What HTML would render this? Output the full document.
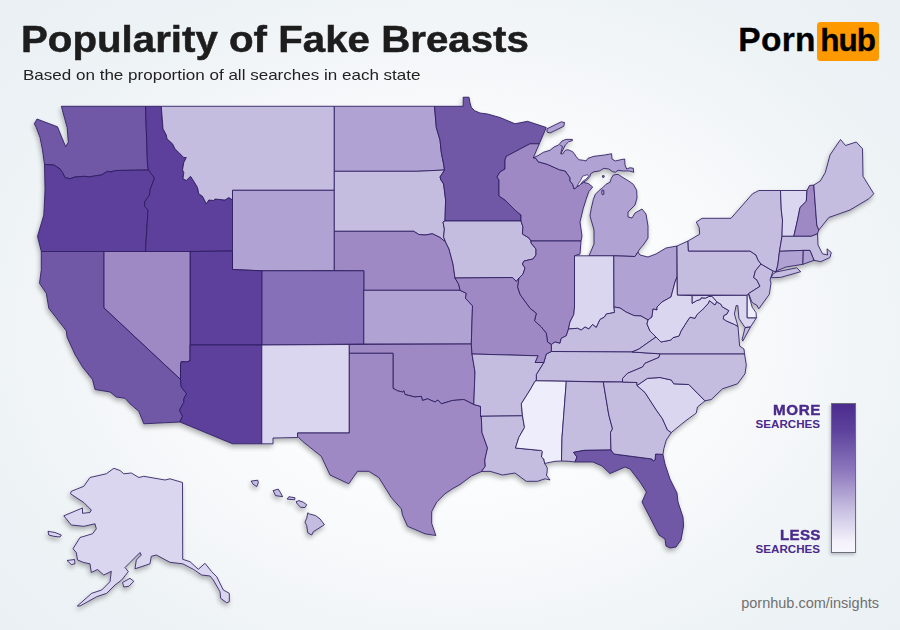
<!DOCTYPE html>
<html><head><meta charset="utf-8"><title>Popularity map</title>
<style>
html,body{margin:0;padding:0}
body{width:900px;height:630px;overflow:hidden;position:relative;font-family:"Liberation Sans",sans-serif;
background:radial-gradient(ellipse 600px 450px at 455px 330px,#ffffff 0%,#fcfdfe 30%,#f6f8fa 55%,#eef3f6 78%,#eaf0f4 100%);}
#title{position:absolute;left:20.6px;top:18px;font-size:37px;font-weight:bold;color:#1d1d1d;white-space:nowrap;line-height:44px;transform-origin:0 0;transform:scaleX(1.088);-webkit-text-stroke:0.5px #1d1d1d}
#sub{position:absolute;left:23.4px;top:66px;font-size:15px;color:#222;white-space:nowrap;line-height:18px;transform-origin:0 0;transform:scaleX(1.135)}
#logo{position:absolute;left:738.2px;top:20.4px;height:39px;white-space:nowrap;font-weight:bold;font-size:33.5px;line-height:39px;color:#000;letter-spacing:0.35px;-webkit-text-stroke:0.3px #000}
#hubbox{position:absolute;left:817px;top:22px;width:62px;height:39px;background:#ff9900;border-radius:3.5px}
#hub{position:absolute;left:820.2px;top:21px;font-weight:bold;font-size:31.5px;line-height:39px;color:#000;letter-spacing:-1px;white-space:nowrap;-webkit-text-stroke:0.3px #000}
.lg{position:absolute;right:80px;text-align:right;color:#4a2a8c;font-weight:bold;white-space:nowrap}
.lg .a{font-size:14.2px;line-height:14px;display:block;letter-spacing:0.6px;margin-right:-0.6px;transform:scaleX(1.07);transform-origin:100% 50%;-webkit-text-stroke:0.4px #4a2a8c}
.lg .a.l{letter-spacing:0.2px;margin-right:-0.2px}
.lg .b{font-size:11.6px;line-height:12px;display:block;position:relative;top:0.8px}
#bar{position:absolute;left:831px;top:403px;width:25px;height:150px;box-sizing:border-box;border:1px solid #6d6d78;background:linear-gradient(#4b2c8e 0%,#5d429c 18%,#8d78bd 45%,#c9c1e2 72%,#f4f1fb 93%,#f8f6fd 100%);box-shadow:-1px 2px 3px rgba(60,60,90,.28)}
#foot{position:absolute;right:21px;top:594.5px;font-size:14.5px;color:#707070;white-space:nowrap;line-height:17px}
svg{position:absolute;left:0;top:0}
</style></head><body>
<div id="title">Popularity of Fake Breasts</div>
<div id="sub">Based on the proportion of all searches in each state</div>
<div id="logo">Porn</div><div id="hubbox"></div><div id="hub">hub</div>
<svg width="900" height="630" viewBox="0 0 900 630">
<defs><filter id="sh" x="-5%" y="-5%" width="110%" height="110%"><feGaussianBlur in="SourceAlpha" stdDeviation="2.8"/><feOffset dx="-1.5" dy="3"/><feComponentTransfer><feFuncA type="linear" slope="0.3"/></feComponentTransfer><feMerge><feMergeNode/><feMergeNode in="SourceGraphic"/></feMerge></filter></defs>
<g filter="url(#sh)" stroke="#2c1b5e" stroke-width="0.85" stroke-linejoin="round">
<path fill="#6f58a6" d="M44.5,164.5 42.5,150 40,137.5 36.3,127.5 34.3,123.8 37,119 57.5,126.8 65.6,146.6 68.3,142.3 67.2,127.8 61.3,106.3 145.5,106.3 147.5,165 148.5,170 148.5,170 116.3,170.5 110,172 107.5,171.3 101.3,175 92.5,176.3 88.8,177 85,176.3 75,177 70,178.8 65,177.5 62.5,172.5 60,168.8 53.8,165 44.5,164.5Z"/>
<path fill="#5c3f9b" d="M44.5,164.5 45,190 43.8,215 37.5,236.3 41.3,251.5 145.5,251.5 145.5,251.5 148,210 144.5,206.3 145,201.3 149.5,195 150,190 154.5,178 148.5,170 148.5,170 116.3,170.5 110,172 107.5,171.3 101.3,175 92.5,176.3 88.8,177 85,176.3 75,177 70,178.8 65,177.5 62.5,172.5 60,168.8 53.8,165 44.5,164.5Z"/>
<path fill="#5c3f9b" d="M145.5,106.3 161.3,106.3 163,128.8 166.3,135 167,138.8 172.5,143.8 175,148.8 180,153.8 183.8,157.5 186.3,157.5 183.8,162.5 182.5,170 183.8,172.5 183,178.8 186.3,180.5 190.5,176.3 193.8,181.3 197.5,187.5 198.8,193.8 202.5,196.3 206.3,203.8 208.8,200 213.8,200.5 215,199 225,200 228.8,197.5 232.5,200 232.5,251 190,251.5 145.5,251.5 145.5,251.5 148,210 144.5,206.3 145,201.3 149.5,195 150,190 154.5,178 148.5,170 148.5,170 147.5,165 145.5,106.3Z"/>
<path fill="#c4bde0" d="M161.3,106.3 334.3,106.3 334.3,190.3 232.5,190.3 232.5,200 228.8,197.5 225,200 215,199 213.8,200.5 208.8,200 206.3,203.8 202.5,196.3 198.8,193.8 197.5,187.5 193.8,181.3 190.5,176.3 186.3,180.5 183,178.8 183.8,172.5 182.5,170 183.8,162.5 186.3,157.5 183.8,157.5 180,153.8 175,148.8 172.5,143.8 167,138.8 166.3,135 163,128.8 161.3,106.3Z"/>
<path fill="#b0a3d3" d="M232.5,190.3 334.3,190.3 334.3,270.5 261.8,270.8 232.5,269.5Z"/>
<path fill="#b0a3d3" d="M334.3,106.3 434.5,106.3 436.3,127.5 440,140 441.3,152.5 443.8,165 444.5,170 417.5,171.3 334.3,171.3Z"/>
<path fill="#c4bde0" d="M334.3,171.3 417.5,171.3 444.5,170 440,177 441,180 443.6,184 445.6,200 445,221 445,221 443,222 444.4,229 443.6,237 445.6,242 445.6,242 440,237.5 432.5,233.8 425,235 418.8,234.5 413.8,231.3 334.3,231.3Z"/>
<path fill="#9e89c5" d="M334.3,231.3 413.8,231.3 418.8,234.5 425,235 432.5,233.8 440,237.5 445.6,242 445.6,242 449,249 453,264 455,278 455,278 458.8,284.5 460,290.3 363.8,290.3 363.8,270.8 334.3,270.5Z"/>
<path fill="#8671b8" d="M261.8,270.8 363.8,270.8 363.8,344 261.8,345Z"/>
<path fill="#b0a3d3" d="M363.8,290.3 460,290.3 466.3,293.3 465.5,298.3 472.5,305.8 472,322 471.3,344 363.8,344Z"/>
<path fill="#5c3f9b" d="M190,251.5 232.5,251 232.5,269.5 261.8,270.8 261.8,345 190,345Z"/>
<path fill="#9e89c5" d="M103.8,251.5 190,251.5 190,360.8 186.3,362 181.3,361.5 180.5,364.5 180.5,379.5 103.8,307.8Z"/>
<path fill="#6f58a6" d="M41.3,251.5 41.3,269.5 39.5,283.3 46.3,293.3 48.8,308.3 66.3,330.8 67,337 75,354.5 82.5,367 92.5,379.5 95,389.5 110,392 116.3,397 125,398.3 130,403.8 138.8,411.3 143.8,423.8 180,422 180,422 182.5,416.3 179.5,410 183.8,402.5 183.8,399 186.5,393.5 181.3,387 180.5,379.5 103.8,307.8 103.8,251.5Z"/>
<path fill="#5c3f9b" d="M190,345 261.8,345 261.8,443.8 232.5,443.8 180,422 182.5,416.3 179.5,410 183.8,402.5 183.8,399 186.5,393.5 181.3,387 180.5,379.5 180.5,364.5 181.3,361.5 186.3,362 190,360.8Z"/>
<path fill="#dbd6ef" d="M261.8,345 349.3,344.5 349.3,433 297.5,433 297.5,437.5 273,438 273,443.8 261.8,443.8Z"/>
<path fill="#9e89c5" d="M349.3,344.5 471.3,344 472,354 475,372 473.8,404.5 473.8,404.5 463.8,399.5 452.5,400.5 441.3,403.8 438,400 435,402 427.5,398.8 422.5,400.5 421.3,396.3 415,397 405,394.5 403.8,390.8 402.5,392 397.5,390.8 393,388.3 393,353.3 349.3,353.3Z"/>
<path fill="#9e89c5" d="M349.3,353.3 393,353.3 393,388.3 397.5,390.8 402.5,392 403.8,390.8 405,394.5 415,397 421.3,396.3 422.5,400.5 427.5,398.8 435,402 438,400 441.3,403.8 452.5,400.5 463.8,399.5 473.8,404.5 480.5,406.3 481.3,416.3 482,432.5 487.5,448 484.8,460 485.3,466.3 481.5,471.5 471.7,475.8 460,484.5 452,489 445,493.8 436.7,502 431.7,511.7 431.7,523.3 435.8,535.5 425,533.8 407.5,526.3 402.5,515 401.3,508.8 391.3,497.5 378.8,477.5 368.8,471.3 357.5,471.3 348.8,483.8 330,475 321.3,456.3 302.5,441.3 297.5,436.3 297.5,433 349.3,433Z"/>
<path fill="#6f58a6" d="M434.5,106.3 463.2,106.3 463.2,97.2 469,97.2 470,102.7 471.3,107.3 474.7,110.7 480,113 487.5,114 500,117.5 515,123.8 527.5,121.3 546.3,127.5 539.3,143.8 530,143.8 506.3,156.3 505,160 505,169 500,172 497,177 499,180 499,196 505,200 510,205 516,211 521,215 521,221 445,221 445.6,200 443.6,184 441,180 440,177 444.5,170 444.5,170 443.8,165 441.3,152.5 440,140 436.3,127.5 434.5,106.3Z"/>
<path fill="#c4bde0" d="M445,221 521,221 523,227 522.4,234 529,238 531,241 531,241 531,243 536,249 536,255 533,259 524,261 522.4,264 525,268 523,274 518.8,278.3 518.8,278.3 516.3,281.5 512.5,277.5 455,278 455,278 453,264 449,249 445.6,242 445.6,242 443.6,237 444.4,229 443,222 445,221Z"/>
<path fill="#9e89c5" d="M521,221 521,215 516,211 510,205 505,200 499,196 499,180 497,177 500,172 505,169 505,160 506.3,156.3 530,143.8 539.3,143.8 533.3,157.7 536,158.3 538,161.7 547.3,164.3 559.3,169.7 565.3,171 566.7,173 570,177.7 570,181 572.7,184.3 574,189 583.3,182.3 588.7,183.7 592.7,187 588.7,191.7 586,199.7 583.3,208.3 580,222 582,236 581,241 531,241 529,238 522.4,234 523,227 521,221Z"/>
<path fill="#b0a3d3" d="M533.3,157.7 538,155.7 543.3,152.3 550,150.3 554,147 558.7,145 562,141 566,139.4 572.4,139.4 572.4,140.7 568.7,141.7 565.3,145 563.3,149 562,151.7 560.7,153.7 562.7,154 565.3,150.3 568,149.7 572.7,151.7 576,156.3 578.7,159.7 583.3,160.3 586,161 588,158.3 594,156.3 604.7,155 611.6,153.7 612,159 615.3,161 620.7,159.7 624.7,159 625,165 626.7,169 630,167.7 633.3,168.3 633.7,172.3 629.3,171 623.3,171 618,170.3 615.3,172.3 612.7,171.7 608.7,169 604,168.3 599.3,171 594,171.7 590.7,173.7 590,176.3 587.3,179.7 583.3,182.3 574,189 574,189 572.7,184.3 570,181 570,177.7 566.7,173 565.3,171 559.3,169.7 547.3,164.3 538,161.7 536,158.3 533.3,157.7ZM613.3,175 618,174.3 622,177 628.7,181 633.3,184.3 636.7,190.3 637,198 635,205 628,212 628,217 632,218 635,213 642,209 646,214 648,226 648,238 644,244 639,250 638,252 635,256.5 613.8,255.8 589,255.8 594,244 594,230 590,216 591.3,208.3 593.3,199.7 595.3,194.3 599.3,190.3 602.7,187.7 606,184.3 610,182.3 611.3,178.3ZM547,128.8 561.3,121.8 564.5,122.5 563.8,126.3 550,133 547,132ZM602.5,175.6 604.3,175.8 604,177.4 602.4,177.2ZM602.2,190 603.8,190.4 603.9,194.2 602.4,194.8 601.6,192.5Z"/>
<path fill="#9e89c5" d="M531,241 581,241 580,254 574.5,255.8 574.5,307 573.8,314.5 570,322 568.5,329 568.5,329 566.3,335.8 561.3,338.3 560,343.3 555,342 551.3,344.5 551.3,344.5 547.5,342 546.3,333.3 541.3,327 534.5,320.8 536.3,313.3 530,308.3 520,294.5 517.5,287 518.8,278.3 518.8,278.3 523,274 525,268 522.4,264 524,261 533,259 536,255 536,249 531,243 531,241Z"/>
<path fill="#dbd6ef" d="M574.5,255.8 613.8,255.8 614,307 614.5,312.5 606.3,314 604.5,317 600,319.5 596.3,327.5 592.5,324.5 588.8,329 585,327 581.3,330 577.5,328.3 568.5,329 568.5,329 570,322 573.8,314.5 574.5,307 574.5,255.8Z"/>
<path fill="#b0a3d3" d="M613.8,255.8 635,256.5 638,252 640,255 648,257 656,254 666,248 677,246 677,277 675,282 671,297 662,302 657,307 657,310 653,309 652,317 648,320 648,320 641,316 634,315.6 626,312 620,308 614,307Z"/>
<path fill="#c4bde0" d="M568.5,329 577.5,328.3 581.3,330 585,327 588.8,329 592.5,324.5 596.3,327.5 600,319.5 604.5,317 606.3,314 614.5,312.5 614,307 614,307 620,308 626,312 634,315.6 641,316 648,320 648,320 647,324 650,331 656,337 656,337 646,344 639,349 632,352 551.3,351.5 551.3,344.5 551.3,344.5 555,342 560,343.3 561.3,338.3 566.3,335.8 568.5,329Z"/>
<path fill="#c4bde0" d="M546.3,354 551.3,351.5 632,352 660,353.8 658.8,357.5 645,363.3 642.5,367 627.5,373.3 622.5,378.5 622.5,382 536.3,380.8 536.3,374.5 543.8,362.5Z"/>
<path fill="#9e89c5" d="M455,278 512.5,277.5 516.3,281.5 518.8,278.3 518.8,278.3 517.5,287 520,294.5 530,308.3 536.3,313.3 534.5,320.8 541.3,327 546.3,333.3 547.5,342 551.3,344.5 551.3,351.5 546.3,354 543.8,362.5 535,362.5 538,355.8 472,354 471.3,344 472,322 472.5,305.8 465.5,298.3 466.3,293.3 460,290.3 460,290.3 458.8,284.5 455,278Z"/>
<path fill="#c4bde0" d="M472,354 538,355.8 535,362.5 543.8,362.5 536.3,374.5 536.3,380.8 535,381.3 530,390 521.3,403.8 522.5,415.8 480.5,416.3 480.5,406.3 473.8,404.5 473.8,404.5 475,372 472,354Z"/>
<path fill="#c4bde0" d="M480.5,416.3 522.5,415.8 524.5,427.5 518.8,437.5 515.5,448 541.3,450.5 542.4,451.5 541.5,457 543.8,459 544.7,463.5 547.3,468 547,473 546.3,475 550,480 545,478.8 537.5,481.3 526.3,481.3 515,473 502.5,475 490,471.3 481.5,471.5 485.3,466.3 484.8,460 487.5,448 482,432.5 481.3,416.3Z"/>
<path fill="#ededfc" d="M522.5,415.8 521.3,403.8 530,390 535,381.3 536.3,380.8 566.3,381.3 562,437.5 561.5,461 555,461.3 548,462.7 544.7,463.5 543.8,459 541.5,457 542.4,451.5 541.3,450.5 515.5,448 518.8,437.5 524.5,427.5 522.5,415.8Z"/>
<path fill="#c4bde0" d="M566.3,381.3 603.3,382 608.8,415 612.5,428.8 610.5,432.5 611,450 611,450 584,450.4 573.6,452.4 577,457 575,462 568.7,461.3 561.5,461 562,437.5 566.3,381.3Z"/>
<path fill="#6f58a6" d="M575,462 577,457 573.6,452.4 584,450.4 611,450 611,450 614,454 652,459 653,461 655,460 655.6,454 663,454.4 665,464 670,479 677,493 678,502 683,517 683.6,526 681,540 676,547 670,548 666,546 665,539 659,535 642,502 646.4,492 640,482 630,469 625,467 610,473.6 602,466 593,462Z"/>
<path fill="#c4bde0" d="M603.3,382 622.5,382 637,382.5 637,385.5 645,392.5 656.3,410 662.5,418.8 667.5,430 671.3,432.5 666.3,440 663.8,448.8 663,454.4 655.6,454 655,460 653,461 652,459 614,454 611,450 611,450 610.5,432.5 612.5,428.8 608.8,415 603.3,382Z"/>
<path fill="#dbd6ef" d="M637,385.5 647.5,378.3 660,377.5 671.3,380 673.8,383.8 688.8,384.5 705,400.8 697.5,407 696.3,413 685,421.3 671.3,432.5 667.5,430 662.5,418.8 656.3,410 645,392.5 637,385.5Z"/>
<path fill="#c4bde0" d="M622.5,382 622.5,378.5 627.5,373.3 642.5,367 645,363.3 658.8,357.5 660,353.8 744.5,353.8 746.3,365 745,373.8 737.5,383.8 722.5,388.8 711.3,399.5 705,400.8 688.8,384.5 673.8,383.8 671.3,380 660,377.5 647.5,378.3 637,385.5 637,382.5Z"/>
<path fill="#c4bde0" d="M632,352 632,352 639,349 646,344 656,337 656,337 661,342 671,340 673,337.6 679,336 681,331 688,320 690,317.2 695,318.3 696.7,315 699.4,312.2 702.2,310 708.3,303.3 709.4,300.6 715,305 716.7,301.7 716.7,301.7 721.1,304.4 722.2,306.7 728.9,310.6 726.7,314.4 723.9,315.6 723.3,318.9 726.7,321.1 734.4,324.4 738,326.5 739.6,346 744,349 744.5,353.8 660,353.8ZM745,327.8 750.6,326.7 742.8,341.1 742.2,339.4Z"/>
<path fill="#dbd6ef" d="M677,277 675,282 671,297 662,302 657,307 657,310 653,309 652,317 648,320 648,320 647,324 650,331 656,337 656,337 661,342 671,340 673,337.6 679,336 681,331 688,320 690,317.2 695,318.3 696.7,315 699.4,312.2 702.2,310 708.3,303.3 709.4,300.6 715,305 716.7,301.7 716.7,301.7 713.9,298.3 711.7,296.1 708.3,296.7 705.6,298.1 701.1,297.8 700.6,299.4 696.7,300.6 692.2,303.3 692.2,295.6 677.4,295Z"/>
<path fill="#dbd6ef" d="M692.2,295.6 747.2,295.2 747.2,317.8 756.4,317.8 750.6,326.7 745,327.5 738.9,318.3 737.8,305.6 736.1,305.6 734.4,313.9 738,326.5 734.4,324.4 726.7,321.1 723.3,318.9 723.9,315.6 726.7,314.4 728.9,310.6 722.2,306.7 721.1,304.4 716.7,301.7 713.9,298.3 711.7,296.1 708.3,296.7 705.6,298.1 701.1,297.8 700.6,299.4 696.7,300.6 692.2,303.3Z"/>
<path fill="#ededfc" d="M747.2,295.2 748.3,293.5 750,299.4 752.2,307.2 756.1,312.8 756.4,317.8 747.2,317.8Z"/>
<path fill="#c4bde0" d="M677,246 688,241 688.4,251 750,251 756,255 758,260 761,264 761,264 755.3,271 753.7,277.7 756.7,279.7 760,286.3 748.7,293.5 747.2,295.2 677.4,295Z"/>
<path fill="#c4bde0" d="M761,264 773,271 770,280 771,283 769.3,294.3 758.8,308.8 756.7,305 753.9,303.7 751.7,301.7 750,297.2 748.7,293.5 760,286.3 756.7,279.7 753.7,277.7 755.3,271 761,264Z"/>
<path fill="#c4bde0" d="M688,241 699.7,234.2 699.2,227.5 696.3,222 702,218.3 731,218.3 752.5,193.8 758.8,190.5 780.5,190.5 781.3,210 782.5,220 782,236.3 779.5,251.3 777.8,265 776,271.7 773,271 761,264 758,260 756,255 750,251 688.4,251ZM772.7,274.3 776,272 796.7,267.8 800.7,271.7 780.7,277.4 771.3,277.7Z"/>
<path fill="#dbd6ef" d="M780.5,190.5 807,190.5 806.3,201.3 800,207.5 797.5,220 793.8,236.3 782,236.3 782.5,220 781.3,210 780.5,190.5Z"/>
<path fill="#9e89c5" d="M807,190.5 809.5,185.5 813.8,185 816.8,225 818.8,230 817.5,233.8 811.3,236.3 793.8,236.3 797.5,220 800,207.5 806.3,201.3 807,190.5Z"/>
<path fill="#c4bde0" d="M813.8,185 820.3,181 825.3,172.5 830,155 840.5,139.5 845.5,145.5 856.3,142 862.5,148.8 863,176.3 873.8,193.8 868.8,198.8 850,210 828.8,217.5 818.8,230 816.8,225Z"/>
<path fill="#c4bde0" d="M782,236.3 811.3,236.3 817.5,233.8 818,245 822.5,253.8 827.5,255 827,248.8 831.3,252.5 830,257.5 820.7,261.7 814,260.3 810,250.4 803.3,250.4 779.5,251.3Z"/>
<path fill="#b0a3d3" d="M779.5,251.3 803.3,250.4 802.9,264.3 794,265.7 786,267 778,270.3 776,271.7 777.8,265Z"/>
<path fill="#b0a3d3" d="M803.3,250.4 810,250.4 814,260.3 802.9,264.3Z"/>
<path fill="#dbd6ef" d="M182.5,482.5 170,478.8 165,480 143.8,476.3 138.8,477.5 131.3,473 123.8,473.8 120,470.5 113.8,468.3 106.3,473.8 90,477.5 83.8,486.3 71.3,491.3 70.5,493.8 83.8,502.5 91.3,510 90,512.5 82.5,513.3 82.5,508 63.8,515.8 71.3,525 83.8,526.3 95,523.8 96.3,528.8 92.5,533.8 80,537.5 73,548.8 76.3,552.5 77.5,560 83.8,562.5 90,563.8 91.3,572.5 97.5,569.5 103.8,575 111.3,571.3 110,581.7 101.7,590 91.7,593.3 77.3,606 80,606 96.7,596.7 106.7,593.3 115,585 121.7,580 128.3,571.7 125,567.5 130,562.5 140,552.5 141.3,555 136.3,560 135,568.8 150,563.8 151.3,556.3 156.3,555 170,562.3 182.7,563.8 193.3,569.3 201.7,575 210,576 213.3,580 220,591.7 220.7,598.3 226.7,602.7 229.3,601.7 229.3,593.3 223.3,590 216.7,576.7 211.7,571.7 205,563.3 198.3,569.3 190,561.7 182.7,559.3ZM48,531.3 55,532.5 61.3,535 60,537 53.8,536.3 48.8,535ZM67,560.5 74.5,559.5 75,563.8 71.3,564.5ZM122.5,582.5 130,578.3 133.8,581.3 128.8,586.3 123.8,587Z"/>
<path fill="#c4bde0" d="M251.1,481.1 257.8,480.2 258.3,482.8 256.7,486.7 252.8,483.9ZM273.1,490.6 278.3,489.1 280.6,492.8 282.6,496.7 275.6,495.6ZM287.2,499.1 288.9,496.7 295,497.8 294.7,499.8ZM296.1,501.7 298.9,500.6 303.3,502.2 306.7,504.7 305,507.6 300.6,507.2 297.2,503.9ZM307.8,512.8 309.4,513.9 315.6,515.6 320,518.9 324.4,524.7 317.8,528.9 313.3,531.7 311.7,535 307.8,532.8 306.7,525.6 305,522.2 306.7,518.3Z"/>
<path fill="#f3f3f9" stroke-width="0.7" d="M577.2,185.6 580.6,180.4 582.6,176.2 587.6,174.6 588.4,176.6 585.6,179.4 582.8,181.2 579.4,185.6Z"/>
<path fill="none" stroke-width="0.8" d="M560.9,153.6 561.6,149.6 562.6,146.6 560.2,145.2"/>
</g>
</svg>
<div class="lg" style="top:403px"><span class="a">MORE</span><span class="b">SEARCHES</span></div>
<div class="lg" style="top:528px"><span class="a l">LESS</span><span class="b">SEARCHES</span></div>
<div id="bar"></div>
<div id="foot">pornhub.com/insights</div>
</body></html>
